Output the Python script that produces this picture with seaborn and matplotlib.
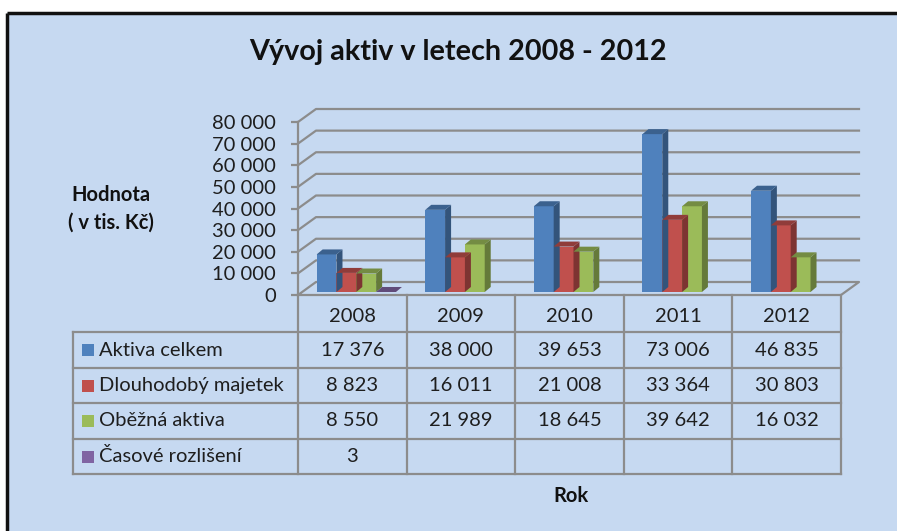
import matplotlib
matplotlib.use("Agg")
import matplotlib.pyplot as plt
import matplotlib.transforms as mtransforms
from matplotlib.patches import Rectangle, Polygon
from matplotlib.lines import Line2D
import pandas as pd
import seaborn as sb

# data (v tis. Kč)
years = ["2008", "2009", "2010", "2011", "2012"]
series = ["Aktiva celkem", "Dlouhodobý majetek", "Oběžná aktiva", "Časové rozlišení"]
aktiva_celkem = [17376, 38000, 39653, 73006, 46835]
dlouhodoby_majetek = [8823, 16011, 21008, 33364, 30803]
obezna_aktiva = [8550, 21989, 18645, 39642, 16032]
casove_rozliseni = [3, None, None, None, None]
y_ticks = [0, 10000, 20000, 30000, 40000, 50000, 60000, 70000, 80000]
colors = ["#4F81BD", "#C0504D", "#9BBB59", "#8064A2"]

all_values = [aktiva_celkem, dlouhodoby_majetek, obezna_aktiva, casove_rozliseni]
rows = []
for name, vals in zip(series, all_values):
    for yr, v in zip(years, vals):
        if v is not None:
            rows.append({"Rok": yr, "Řada": name, "Hodnota": v})
df = pd.DataFrame(rows)

plt.rcParams['font.family'] = ['Lato', 'DejaVu Sans']
W, H = 897, 531
bg = "#C6D9F1"
grid_col = "#8C8C8C"
txt_col = "#1E1E1E"
fs = 14.5


def fx(px):
    return px / W


def fy(py):
    return 1 - py / H


fig = plt.figure(figsize=(W / 100, H / 100), dpi=100)
fig.patch.set_facecolor(bg)
# white strip above and left of the chart frame
fig.patches.append(Rectangle((0, fy(13)), 1, fy(0) - fy(13), transform=fig.transFigure,
                             facecolor="white", edgecolor="none", zorder=-5))
fig.patches.append(Rectangle((0, 0), fx(7), 1, transform=fig.transFigure,
                             facecolor="white", edgecolor="none", zorder=-5))
fig.add_artist(Line2D([fx(7), 1], [fy(13), fy(13)], transform=fig.transFigure,
                      color="#111111", lw=2.5, solid_capstyle="butt"))
fig.add_artist(Line2D([fx(7), fx(7)], [0, fy(13)], transform=fig.transFigure,
                      color="#111111", lw=2.5, solid_capstyle="butt"))

ax = fig.add_axes([fx(298), fy(295), fx(841) - fx(298), (295 - 122) / H])
ax.patch.set_alpha(0)
ax.set_zorder(2)

sb.barplot(data=df, x="Rok", y="Hodnota", hue="Řada", hue_order=series, order=years,
           palette=colors, width=0.73, saturation=1, errorbar=None, linewidth=0,
           legend=False, ax=ax, zorder=3)
ax.set_xlim(-0.5, 4.5)
ax.set_ylim(0, 80000)

# wall depth in pixels
DX, DY = 18, 13


def to_data(pts):
    return ax.transData.inverted().transform(pts)


# back wall gridlines + floor
for v in y_ticks:
    f = ax.transData.transform([(-0.5, v)])[0]
    r = ax.transData.transform([(4.5, v)])[0]
    pts = [f, (f[0] + DX, f[1] + DY), (r[0] + DX, r[1] + DY)]
    if v == 0:
        pts = [f, r, (r[0] + DX, r[1] + DY), (f[0] + DX, f[1] + DY), f]
    d = to_data(pts)
    ax.plot(d[:, 0], d[:, 1], color=grid_col, lw=1.6, zorder=1, clip_on=False)

# 3D look for the bars
bx, by = 4, 3
sx, sy = 6, 5
off = ax.transData + mtransforms.ScaledTranslation(bx / 100, by / 100, fig.dpi_scale_trans)
for p in list(ax.patches):
    x0, w, h = p.get_x(), p.get_width(), p.get_height()
    if h != h:
        continue
    p.set_transform(off)
    p.set_clip_on(False)
    fc = p.get_facecolor()
    dark = [c * 0.65 for c in fc[:3]]
    topc = [c * 0.75 for c in fc[:3]]
    (a0, b0), (a1, b1) = off.transform([(x0, 0), (x0 + w, h)])
    side = [(a1, b0), (a1 + sx, b0 + sy), (a1 + sx, b1 + sy), (a1, b1)]
    top = [(a0, b1), (a1, b1), (a1 + sx, b1 + sy), (a0 + sx, b1 + sy)]
    ax.add_patch(Polygon(to_data(side), closed=True, facecolor=dark, edgecolor="none",
                         zorder=3, clip_on=False))
    ax.add_patch(Polygon(to_data(top), closed=True, facecolor=topc, edgecolor="none",
                         zorder=3, clip_on=False))

for s in ["top", "right", "bottom"]:
    ax.spines[s].set_visible(False)
ax.spines["left"].set_color(grid_col)
ax.spines["left"].set_linewidth(1.6)
ax.set_yticks(y_ticks)
ax.set_yticklabels([f"{v:,}".replace(",", " ") for v in y_ticks])
ax.tick_params(axis="y", length=5, width=1.6, color=grid_col, pad=11, labelsize=fs,
               labelcolor=txt_col)
ax.set_xticks([])
ax.set_xlabel("")
ax.set_ylabel("")

# data table under the plot
tr = mtransforms.blended_transform_factory(ax.transData, fig.transFigure)
left_x = -0.5 - (298 - 73) / 108.6
row_lines = [332, 368, 403, 439, 474]
for yy in row_lines:
    fig.add_artist(Line2D([left_x, 4.5], [fy(yy), fy(yy)], transform=tr, color=grid_col, lw=1.6))
for i in range(6):
    xx = i - 0.5
    fig.add_artist(Line2D([xx, xx], [fy(295), fy(474)], transform=tr, color=grid_col, lw=1.6))
fig.add_artist(Line2D([left_x, left_x], [fy(332), fy(474)], transform=tr, color=grid_col, lw=1.6))

for i, yr in enumerate(years):
    fig.text(i, fy(316), yr, transform=tr, ha="center", va="center", fontsize=fs, color=txt_col)

row_mid = [(a + b) / 2 for a, b in zip(row_lines[:-1], row_lines[1:])]
for name, vals, col, ym in zip(series, all_values, colors, row_mid):
    fig.patches.append(Rectangle((fx(82), fy(ym + 6)), 12 / W, 12 / H, transform=fig.transFigure,
                                 facecolor=col, edgecolor="none"))
    fig.text(fx(99), fy(ym), name, ha="left", va="center", fontsize=fs, color=txt_col)
    for i, v in enumerate(vals):
        if v is not None:
            fig.text(i, fy(ym), f"{v:,}".replace(",", " "), transform=tr, ha="center",
                     va="center", fontsize=fs, color=txt_col)

fig.text(fx(458), fy(52), "Vývoj aktiv v letech 2008 - 2012", ha="center", va="center",
         fontsize=20.7, fontweight="bold", color="#111111")
fig.text(fx(111), fy(209), "Hodnota\n( v tis. Kč)", ha="center", va="center", fontsize=14.5,
         fontweight="bold", color="#111111", linespacing=1.5)
fig.text(fx(571), fy(496), "Rok", ha="center", va="center", fontsize=14.5, fontweight="bold",
         color="#111111")

fig.savefig("out.png", dpi=100)
